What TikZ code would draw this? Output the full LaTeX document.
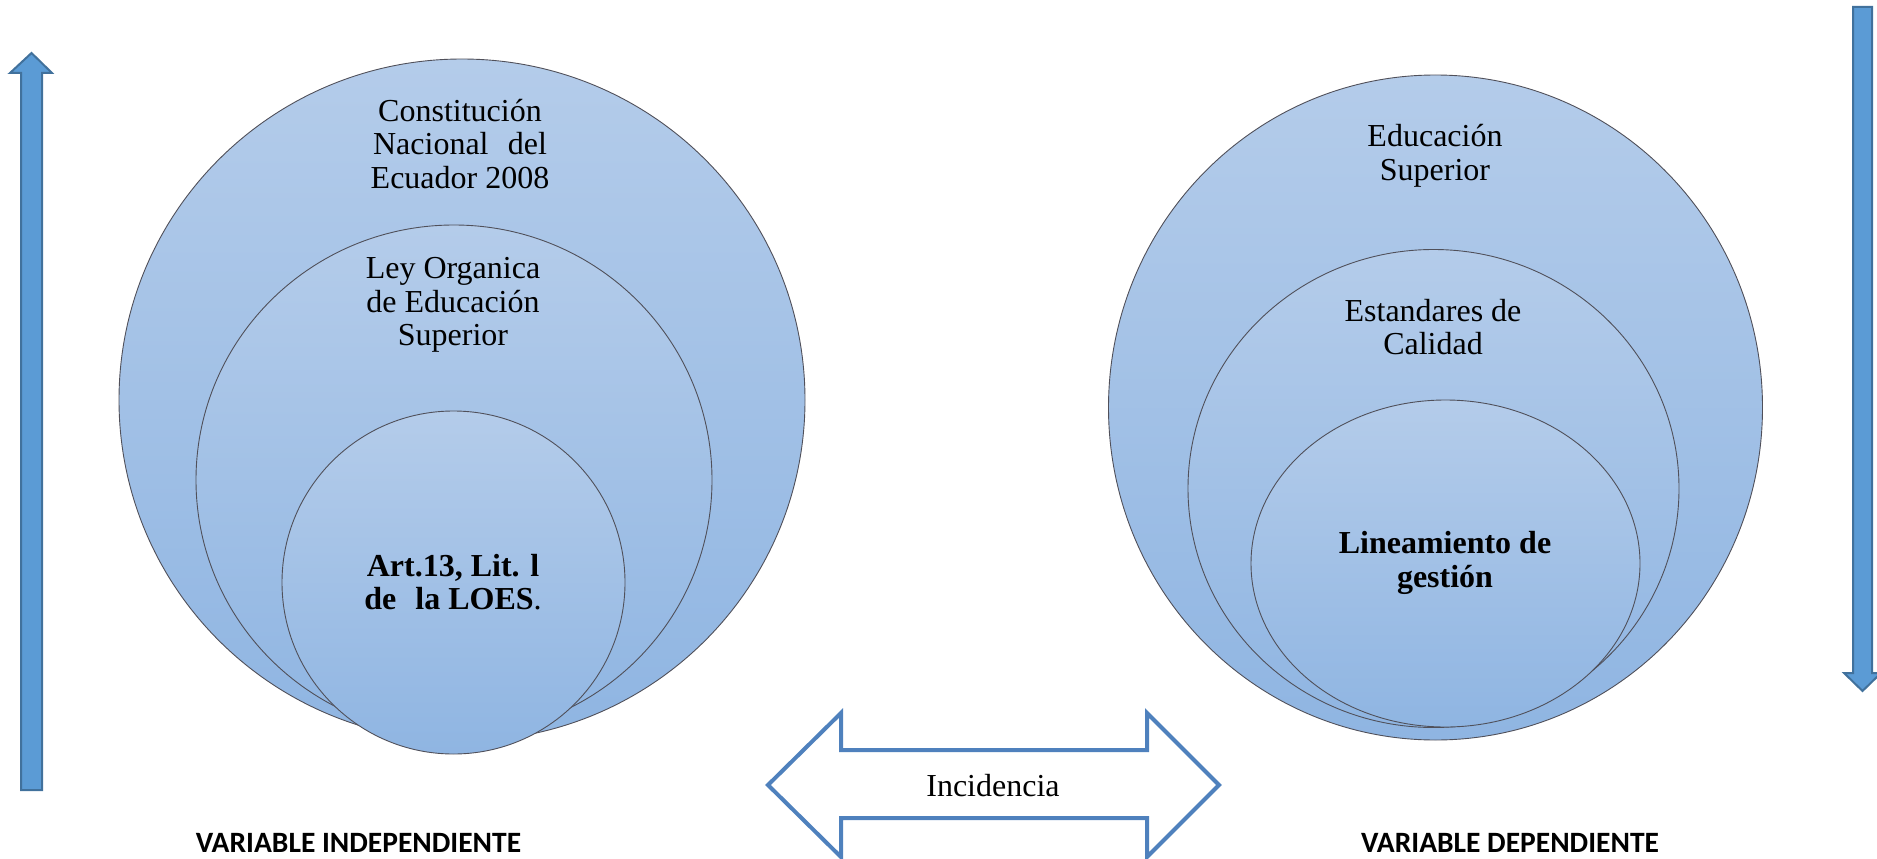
\documentclass[tikz,border=0pt]{standalone}
\usepackage{fontspec}
\setmainfont{Liberation Serif}
\newfontfamily\lblfont{Carlito}
\usetikzlibrary{shapes.geometric}
\definecolor{ctop}{RGB}{180,204,234}
\definecolor{cbot}{RGB}{143,181,226}
\definecolor{cline}{RGB}{80,80,90}
\definecolor{arrfill}{RGB}{91,155,213}
\definecolor{arrline}{RGB}{65,113,156}
\definecolor{dbl}{RGB}{79,129,189}
\tikzset{
  ring/.style={ellipse, inner sep=0pt, draw=cline, line width=0.9pt, top color=ctop, bottom color=cbot},
  txt/.style={align=center, inner sep=0pt, font=\fontsize{32}{33.5}\selectfont},
  vlabel/.style={inner sep=0pt, font=\lblfont\bfseries\fontsize{29.5}{32}\selectfont},
  varrow/.style={fill=arrfill, draw=arrline, line width=2pt, line join=miter},
}
\begin{document}
\begin{tikzpicture}[x=1pt,y=-1pt]
\useasboundingbox (0,0) rectangle (1877,859);
% left circles
\node[ring, minimum width=686pt, minimum height=682pt] (L1) at (462,400) {};
\node[ring, minimum width=516pt, minimum height=510pt] (L2) at (454,480) {};
\node[ring, minimum width=343pt, minimum height=343pt] (L3) at (453.5,582.5) {};
% right circles
\node[ring, minimum width=654pt, minimum height=665pt] (R1) at (1435.5,407.5) {};
\node[ring, minimum width=491pt, minimum height=478pt] (R2) at (1433.5,488.5) {};
\node[ring, minimum width=389pt, minimum height=327pt] (R3) at (1445.5,563.5) {};
% texts
\node[txt] (t1) at (460,144) {Constitución\\Nacional\hspace{0.6em}del\\Ecuador 2008};
\node[txt] (t2) at (453,305) {Ley Organica\\de Educación\\Superior};
\node[txt] (t3) at (453,582) {\textbf{Art.13, Lit. l}\\\textbf{de\hspace{0.6em}la LOES}.};
\node[txt] (t4) at (1435,156) {Educación\\Superior};
\node[txt] (t5) at (1433,327) {Estandares de\\Calidad};
\node[txt,font=\bfseries\fontsize{32}{33.5}\selectfont] (t6) at (1445,563) {Lineamiento de\\gestión};
% vertical arrows
\draw[varrow] (21,790) -- (21,73) -- (10,73) -- (31.5,53) -- (52,73) -- (42,73) -- (42,790) -- cycle;
\draw[varrow] (1853,7) -- (1853,673) -- (1844,673) -- (1862.5,691) -- (1881,673) -- (1872,673) -- (1872,7) -- cycle;
% double arrow
\draw[dbl, line width=4pt, line join=miter, fill=white]
  (768,785) -- (841,713) -- (841,750) -- (1147,750) -- (1147,713) -- (1219,785)
  -- (1147,857) -- (1147,818) -- (841,818) -- (841,857) -- cycle;
\node[txt] (inc) at (993,786) {Incidencia};
% labels
\node[vlabel] (vi) at (358.5,843) {VARIABLE INDEPENDIENTE};
\node[vlabel] (vd) at (1510,843) {VARIABLE DEPENDIENTE};
\end{tikzpicture}
\end{document}
